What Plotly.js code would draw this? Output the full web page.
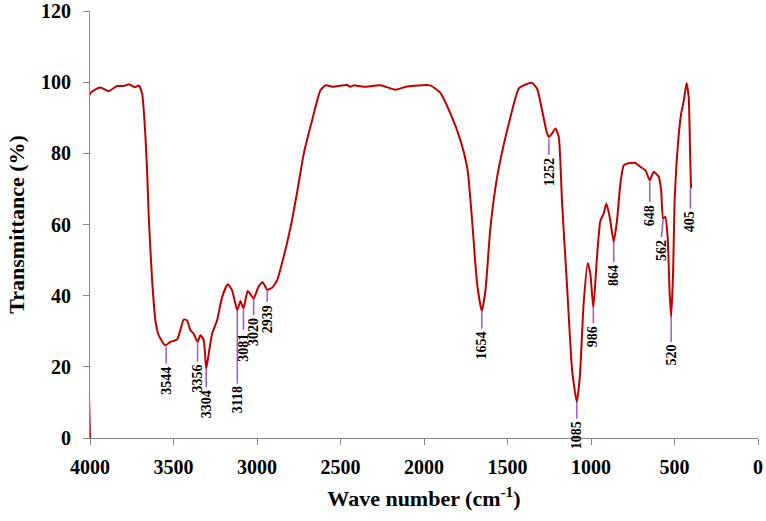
<!DOCTYPE html>
<html>
<head>
<meta charset="utf-8">
<script src="https://cdn.plot.ly/plotly-3.0.1.min.js"></script>
<style>
  html, body { margin: 0; padding: 0; background: #fff; }
  #ftir-plot { width: 766px; height: 521px; }
</style>
</head>
<body>
<div id="ftir-plot"></div>
<script>
// spectrum
var wavenumber = [4000, 4000, 3938, 3888, 3838, 3798, 3768, 3732, 3708, 3688, 3678, 3668, 3658, 3648,
  3628, 3608, 3589, 3549, 3519, 3478, 3459, 3439, 3419, 3399, 3379, 3356, 3339, 3319, 3304, 3289,
  3269, 3239, 3209, 3175, 3149, 3118, 3099, 3081, 3056, 3035, 3020, 2990, 2966, 2939, 2910, 2880,
  2840, 2800, 2760, 2720, 2670, 2620, 2590, 2541, 2500, 2461, 2441, 2421, 2361, 2261, 2171, 2101,
  1962, 1902, 1842, 1782, 1742, 1732, 1712, 1682, 1654, 1632, 1602, 1562, 1502, 1433, 1403, 1353,
  1323, 1293, 1263, 1252, 1233, 1213, 1193, 1173, 1143, 1113, 1085, 1067, 1044, 1020, 1004, 986,
  964, 944, 924, 908, 888, 864, 844, 824, 804, 784, 734, 704, 674, 648, 625, 594, 580, 568, 555,
  541, 529, 520, 508, 500, 488, 474, 460, 444, 428, 415, 407, 405, 401];
var transmittance = [0, 96.8, 98.5, 97.5, 98.9, 98.9, 99.4, 98.6, 99.1, 96.8, 92.1, 84.6, 75.2, 62,
  44.3, 33, 28.9, 26, 27, 27.7, 30.3, 33.3, 33.1, 30.3, 29.3, 27.0, 28.9, 27.5, 19.5, 23.7,
  29.3, 33.1, 39.6, 43.2, 41.5, 35.9, 38.5, 36.4, 41.3, 40.1, 39.2, 42.6, 43.8, 41.7, 42.2, 44.3,
  51, 59, 69, 79.9, 89.3, 97.7, 99.1, 98.7, 99.0, 99.2, 98.7, 99.1, 98.7, 99.1, 97.9, 98.8,
  99.1, 97, 91.2, 83.7, 76.2, 72.4, 61.2, 43.4, 35.7, 41.5, 59.3, 73.4, 86.5, 98.2, 99.1, 99.8,
  98.2, 92.1, 85.6, 84.6, 85.6, 87, 84.6, 65.9, 42.4, 19, 10.1, 17.1, 37.8, 49.2, 46.2, 36.6,
  51, 61, 63.1, 65.9, 62.1, 55.1, 61.2, 71.5, 76.6, 77.1, 77.3, 76.2, 75.2, 72.4, 74.8, 73.4, 69.6, 61.7, 62.1,
  56.5, 40.6, 34, 47.1, 65.9, 77.1, 85.6, 91.2, 94.9, 99.8, 95.8, 80.9, 77, 70.1];

// peak labels
var peakLabels = ['3544', '3356', '3304', '3118', '3081', '3020', '2939', '1654', '1252',
  '1085', '986', '864', '648', '562', '520', '405'];
var peakX = [3544, 3356, 3304, 3118, 3081, 3020, 2939, 1654, 1252, 1085, 986, 864, 648, 578, 520, 405];
var markTopX = [3544, 3356, 3304, 3118, 3081, 3020, 2939, 1654, 1252, 1085, 986, 864, 648, 568, 520, 405];
var markTopY = [25.6, 27.0, 19.5, 35.9, 36.4, 39.2, 41.5, 35.7, 84.1, 10.1, 36.6, 55.1, 72.0, 61.4, 34.0, 70.1];
var markBotY = [20.9, 21.4, 14.3, 15.3, 30.3, 34.5, 38.2, 30.7, 79.5, 5.5, 32.2, 49.5, 66.3, 56.5, 27.0, 64.5];

var serif = 'Liberation Serif, Times New Roman, serif';
var markColor = '#9B59D6';

var shapes = [], annotations = [];
for (var i = 0; i < peakLabels.length; i++) {
  shapes.push({
    type: 'line', xref: 'x', yref: 'y',
    x0: markTopX[i], x1: peakX[i], y0: markTopY[i], y1: markBotY[i],
    line: {color: markColor, width: 1.5}
  });
  annotations.push({
    x: peakX[i], y: markBotY[i], text: peakLabels[i],
    textangle: -90, showarrow: false, xanchor: 'center', yanchor: 'top', yshift: -1,
    font: {family: serif, size: 14, color: '#000', weight: 'bold'}
  });
}

var trace = {
  x: wavenumber,
  y: transmittance,
  mode: 'lines',
  line: {color: '#C00000', width: 2, shape: 'spline', smoothing: 0.5},
  hoverinfo: 'x+y'
};

var layout = {
  width: 766,
  height: 521,
  margin: {l: 90, r: 8, t: 11, b: 83},
  paper_bgcolor: '#fff',
  plot_bgcolor: '#fff',
  showlegend: false,
  font: {family: serif, color: '#000'},
  xaxis: {
    range: [4000, 0],
    autorange: false,
    dtick: 500,
    showgrid: false,
    zeroline: false,
    showline: true,
    linecolor: '#888',
    linewidth: 1,
    ticks: 'outside',
    ticklen: 6,
    tickcolor: '#888',
    ticklabelstandoff: 5,
    tickfont: {family: serif, size: 20, weight: 'bold'},
    title: {text: 'Wave number (cm<sup>-1</sup>)', font: {family: serif, size: 22, weight: 'bold'}, standoff: 13}
  },
  yaxis: {
    range: [0, 120],
    autorange: false,
    dtick: 20,
    showgrid: false,
    zeroline: false,
    showline: true,
    linecolor: '#888',
    linewidth: 1,
    ticks: 'outside',
    ticklen: 6,
    tickcolor: '#888',
    ticklabelstandoff: 8,
    tickfont: {family: serif, size: 20, weight: 'bold'},
    title: {text: 'Transmittance (%)', font: {family: serif, size: 22, weight: 'bold'}, standoff: 10}
  },
  shapes: shapes,
  annotations: annotations
};

Plotly.newPlot('ftir-plot', [trace], layout, {displayModeBar: false});
</script>
</body>
</html>
